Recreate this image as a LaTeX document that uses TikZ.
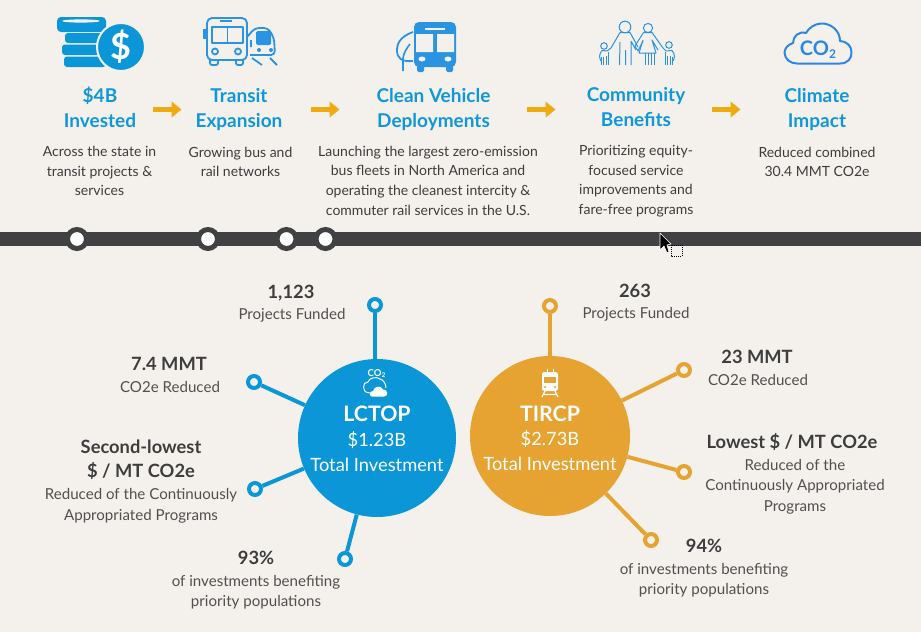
\documentclass[tikz,border=0pt]{standalone}
\usepackage{fontspec}
\setmainfont{Lato}
\usetikzlibrary{arrows.meta}
\definecolor{pagebg}{HTML}{F4F1EC}
\definecolor{inkgrey}{HTML}{3D3D3D}
\definecolor{barblack}{HTML}{3F4143}
\definecolor{headblue}{HTML}{0F97DB}
\definecolor{iconblue}{HTML}{2A93E2}
\definecolor{cloudblue}{HTML}{2B86E6}
\definecolor{hubblue}{HTML}{0A96D7}
\definecolor{huborange}{HTML}{E6A332}
\definecolor{arroworange}{HTML}{EFAA10}
\tikzset{
  headtext/.style={align=center,inner sep=0pt,text=headblue,font=\fontsize{19}{25}\selectfont\bfseries},
  bodytext/.style={align=center,inner sep=0pt,text=inkgrey,font=\fontsize{14}{19.6}\selectfont},
  stattext/.style={align=center,inner sep=0pt,text=inkgrey,font=\fontsize{18.3}{24}\selectfont\bfseries},
  notetext/.style={align=center,inner sep=0pt,text=inkgrey!90,font=\fontsize{15.1}{20.5}\selectfont},
  hubname/.style={inner sep=0pt,text=white,font=\fontsize{21.3}{24}\selectfont\bfseries},
  hubtext/.style={inner sep=0pt,text=white,font=\fontsize{18.3}{22}\selectfont},
  flowarrow/.style={draw=arroworange,line width=5.5pt,-{Triangle[length=10pt,width=15.5pt]}},
  stop/.style={circle,draw=barblack,fill=white,line width=5pt,minimum size=19pt,inner sep=0pt},
  hub/.style={circle,minimum size=#1,inner sep=0pt},
  pin/.style={circle,draw=#1,fill=pagebg,line width=4pt,minimum size=12pt,inner sep=0pt},
  spoke/.style={draw=#1,line width=4pt},
}
\begin{document}
\begin{tikzpicture}[x=1pt,y=-1pt]
   \fill[pagebg] (0,0) rectangle (921,632);
   \useasboundingbox (0,0) rectangle (921,632);
   % coins
   \fill[hubblue,rounded corners=4pt] (57,17) rectangle (106,32);
   \fill[pagebg] (81,21) ellipse (19 and 1.6);
   \fill[hubblue,rounded corners=3pt] (65,33) rectangle (106,43);
   \fill[hubblue,rounded corners=3pt] (62,44.5) rectangle (106,55);
   \fill[hubblue,rounded corners=3pt] (64,56.5) rectangle (106,67);
   \node (dollar) [circle,fill=hubblue,draw=pagebg,line width=2pt,minimum size=48pt,inner sep=0pt,
     text=white,font=\fontsize{36}{36}\selectfont\bfseries] at (121,47) {\$};
   % bus and train
   \begin{scope}[iconblue,line width=1.8pt,line join=round]
     \draw[rounded corners=5pt] (207,18) rectangle (247,60);
     \draw (212,27) rectangle (243,43) (227.5,27) -- (227.5,43);
     \draw (220,21) -- (232,21);
     \draw (215,51.5) circle (3) (238,51.5) circle (3);
     \draw[rounded corners=2pt] (210,60) -- (210,65) -- (218,65) -- (218,60);
     \draw[rounded corners=2pt] (236,60) -- (236,65) -- (243,65) -- (243,60);
     \fill (203,29) rectangle (206,39);
     \draw[rounded corners=4pt] (247,37) -- (255,28) -- (268,28) -- (274,38) -- (275,55) -- (250,55);
     \fill[rounded corners=1.5pt] (256,31) rectangle (271,45);
     \fill (259,50) circle (2) (271,50) circle (2);
     \draw (252,58) -- (262,65) (270,58) -- (277,65) (251,40) -- (251,47);
   \end{scope}
   % clean bus
   \fill[iconblue,rounded corners=5pt] (414,22) rectangle (456,67);
   \fill[iconblue,rounded corners=1.5pt] (417,65) rectangle (424,72) (446,65) rectangle (453,72);
   \fill[pagebg] (416,34) rectangle (433,52) (437,34) rectangle (454,52);
   \draw[pagebg,line width=1.5pt] (425,29) -- (445,29);
   \fill[pagebg] (422,59) ellipse (3.5 and 2.5) (448,59) ellipse (3.5 and 2.5);
   \draw[iconblue,line width=1.8pt] (413,32) .. controls (402,36) and (397,42) .. (397,50)
     .. controls (397,58) and (401,62) .. (413,61);
   \draw[iconblue,line width=1.6pt] (403,71) -- (403,58) .. controls (404,52) and (407,48) .. (410,44);
   % family
   \begin{scope}[iconblue,line width=1pt,line join=round]
     \draw (625,27) circle (5.8) (648,28) circle (4.6) (604,46) circle (3.3) (669,45) circle (3.3);
     \draw (620,32.5) -- (630,32.5) -- (638,47) (620,32.5) -- (611,48);
     \draw (620,42) -- (619.5,65) (631,41) -- (636,50) (631,41) -- (631,65) (625.5,50) -- (625.5,65);
     \draw (643.5,32.5) -- (652,32.5) -- (663,48) (643.5,32.5) -- (635,46) -- (638,51) -- (643,41);
     \draw (643,40) -- (639,53) -- (656,53) -- (652,40) -- (658,50);
     \draw (645,53) -- (645,65) (648,53) -- (648,65) (651.5,53) -- (651.5,65) (654,53) -- (654,65);
     \draw (611,48) -- (607,51) -- (602,50.5) .. controls (599,54) and (599,58) .. (601,61);
     \draw (601.5,57) -- (601.5,65) (603.5,57) -- (603.5,65) (606,56) -- (606,65) (608.5,52) -- (608.5,65);
     \draw (663,48) -- (666,51) -- (672,50.5) .. controls (675,54) and (675,58) .. (673,61);
     \draw (665,52) -- (665,65) (667.5,56) -- (667.5,65) (670,56) -- (670,65) (672.5,57) -- (672.5,65);
   \end{scope}
   % cloud
   \draw[cloudblue,line width=2pt,line join=round] (797,63.5) -- (840,63.5)
     .. controls (848,63.5) and (852,58) .. (851.5,52)
     .. controls (851,46) and (848,42) .. (840,41)
     .. controls (840,30) and (830,23) .. (821,23.5)
     .. controls (814,24) and (809,28) .. (806,33)
     .. controls (799,31) and (793,36) .. (793,43)
     .. controls (787,45) and (784.5,49) .. (784.5,53)
     .. controls (785,59) and (790,63.5) .. (797,63.5) -- cycle;
   \node (co2big) [inner sep=0pt,text=cloudblue,font=\fontsize{20}{20}\selectfont\bfseries] at (818,49.5)
     {CO\raisebox{-2.5pt}{\fontsize{12}{12}\selectfont 2}};
   % top row
   \node (invested) [headtext] at (100,107) {\$4B\\Invested};
   \node (transit) [headtext] at (239,110) {Transit\\Expansion};
   \node (clean) [headtext] at (433.5,110) {Clean Vehicle\\Deployments};
   \node (community) [headtext] at (636,107) {Community\\Benefits};
   \node (climate) [headtext] at (817,110) {Climate\\Impact};
   \node (investedtext) [bodytext] at (99.5,171) {Across the state in\\transit projects \&\\services};
   \node (transittext) [bodytext] at (240.5,162) {Growing bus and\\rail networks};
   \node (cleantext) [bodytext] at (428,180.5) {Launching the largest zero-emission\\bus fleets in North America and\\operating the cleanest intercity \&\\commuter rail services in the U.S.};
   \node (communitytext) [bodytext] at (636,181) {Prioritizing equity-\\focused service\\improvements and\\fare-free programs};
   \node (climatetext) [bodytext] at (817,162) {Reduced combined\\30.4 MMT CO2e};
   \coordinate (a1) at (153,109.5); \coordinate (a2) at (181.5,109.5);
   \coordinate (b1) at (311,109.5); \coordinate (b2) at (339.5,109.5);
   \coordinate (c1) at (527,109.5); \coordinate (c2) at (555.5,109.5);
   \coordinate (d1) at (712,109.5); \coordinate (d2) at (740.5,109.5);
   \draw[flowarrow] (a1) -- (a2);
   \draw[flowarrow] (b1) -- (b2);
   \draw[flowarrow] (c1) -- (c2);
   \draw[flowarrow] (d1) -- (d2);
   % timeline
   \fill[barblack] (0,232) rectangle (921,246);
   \node (stop1) [stop] at (77,239) {};
   \node (stop2) [stop] at (208,239) {};
   \node (stop3) [stop] at (286.5,239) {};
   \node (stop4) [stop] at (325.5,239) {};
   % cursor
   \draw[white,fill=black,line width=0.7pt,line join=round] (660,233) -- (660,250) -- (664,246) -- (667,253)
     -- (669,252) -- (667,245) -- (671,244) -- cycle;
   \draw[black,line width=1pt,dash pattern=on 1pt off 1pt] (671,245) rectangle (682,256);
   % hubs
   \node (lctop) [hub=158pt,fill=hubblue] at (377,438) {};
   \node (tircp) [hub=160pt,fill=huborange] at (550,436) {};
   \node (lname) [hubname] at (377,413.5) {LCTOP};
   \node (lcost) [hubtext] at (377,440) {\$1.23B};
   \node (ltotal) [hubtext] at (377,465) {Total Investment};
   \node (tname) [hubname] at (550,413.5) {TIRCP};
   \node (tcost) [hubtext] at (550,439) {\$2.73B};
   \node (ttotal) [hubtext] at (550,464) {Total Investment};
   % hub icons
   \node (lco2) [inner sep=0pt,text=white,font=\fontsize{9.5}{9.5}\selectfont\bfseries] at (376.5,373.5)
     {CO\raisebox{-1.5pt}{\fontsize{6.5}{6.5}\selectfont 2}};
   \draw[white,line width=1pt] (370,393) .. controls (365,393) and (363.5,390) .. (363.5,387)
     .. controls (363.5,384) and (365,382) .. (368,382) .. controls (369,378) and (376,376) .. (380,379)
     .. controls (383,380) and (386,383) .. (386,388);
   \fill[white] (372,396.5) .. controls (369,396.5) and (369,391) .. (373,391)
     .. controls (374,386) and (381,385) .. (383,389.5) .. controls (388,389) and (389,396.5) .. (384,396.5) -- cycle;
   \begin{scope}[white]
     \fill[rounded corners=2.5pt] (542,372) rectangle (558,391);
     \fill[huborange] (544,377) rectangle (556,383);
     \fill[huborange] (545,387) circle (1.2) (555,387) circle (1.2);
     \draw[line width=0.9pt] (547,372) -- (547,369) (553,372) -- (553,369);
     \draw[line width=1.2pt] (545,391) -- (542,397) (555,391) -- (558,397) (544,394.5) -- (556,394.5);
   \end{scope}
   % LCTOP stats
   \node (lpin1) [pin=hubblue] at (375,305) {};
   \node (lpin2) [pin=hubblue] at (254,382) {};
   \node (lpin3) [pin=hubblue] at (255,489) {};
   \node (lpin4) [pin=hubblue] at (345,559) {};
   \draw[spoke=hubblue] (lpin1) -- (lpin1 |- lctop.north);
   \draw[spoke=hubblue] (lpin2) -- (lctop);
   \draw[spoke=hubblue] (lpin3) -- (lctop);
   \draw[spoke=hubblue] (lpin4) -- (lctop);
   \node (lstat1) [stattext] at (291,293.5) {1,123};
   \node (lnote1) [notetext] at (292,315) {Projects Funded};
   \node (lstat2) [stattext] at (169,364) {7.4 MMT};
   \node (lnote2) [notetext] at (170,387) {CO2e Reduced};
   \node (lstat3) [stattext] at (141,459.5) {Second-lowest\\\$ / MT CO2e};
   \node (lnote3) [notetext] at (141,506) {Reduced of the Continuously\\Appropriated Programs};
   \node (lstat4) [stattext] at (256,558) {93\%};
   \node (lnote4) [notetext] at (256,592) {of investments benefiting\\priority populations};
   % TIRCP stats
   \node (tpin1) [pin=huborange] at (550,306) {};
   \node (tpin2) [pin=huborange] at (684,370) {};
   \node (tpin3) [pin=huborange] at (684,472) {};
   \node (tpin4) [pin=huborange] at (651,540) {};
   \draw[spoke=huborange] (tpin1) -- (tircp);
   \draw[spoke=huborange] (tpin2) -- (tircp);
   \draw[spoke=huborange] (tpin3) -- (tircp);
   \draw[spoke=huborange] (tpin4) -- (tircp);
   \node (tstat1) [stattext] at (635,291) {263};
   \node (tnote1) [notetext] at (636,314) {Projects Funded};
   \node (tstat2) [stattext] at (757,357) {23 MMT};
   \node (tnote2) [notetext] at (758,380) {CO2e Reduced};
   \node (tstat3) [stattext] at (792,442) {Lowest \$ / MT CO2e};
   \node (tnote3) [notetext] at (795,486.5) {Reduced of the\\Continuously Appropriated\\Programs};
   \node (tstat4) [stattext] at (704,546) {94\%};
   \node (tnote4) [notetext] at (704,580) {of investments benefiting\\priority populations};
\end{tikzpicture}
\end{document}
